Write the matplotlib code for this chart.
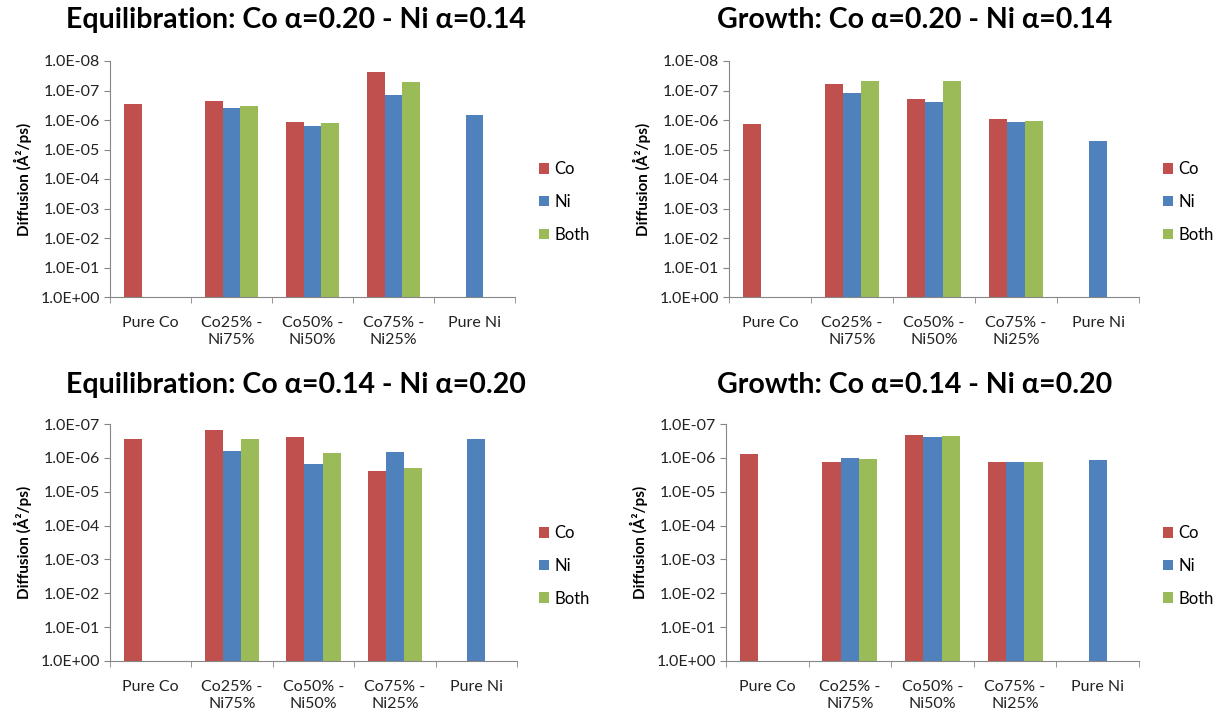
import matplotlib.pyplot as plt
import numpy as np
from matplotlib.ticker import FuncFormatter, FixedLocator

plt.rcParams['font.family'] = ['Lato', 'DejaVu Sans']

categories = ['Pure Co', 'Co25% -\nNi75%', 'Co50% -\nNi50%', 'Co75% -\nNi25%', 'Pure Ni']
series = ['Co', 'Ni', 'Both']
colors = ['#C0504D', '#4F81BD', '#9BBB59']
nan = np.nan

# Equilibration, Co a=0.20 / Ni a=0.14
eq1_co = [2.8e-7, 2.2e-7, 1.2e-6, 2.4e-8, nan]
eq1_ni = [nan, 3.9e-7, 1.6e-6, 1.4e-7, 6.7e-7]
eq1_both = [nan, 3.4e-7, 1.26e-6, 5.2e-8, nan]

# Growth, Co a=0.20 / Ni a=0.14
gr1_co = [1.35e-6, 5.9e-8, 2.0e-7, 9.6e-7, nan]
gr1_ni = [nan, 1.2e-7, 2.5e-7, 1.18e-6, 5.2e-6]
gr1_both = [nan, 4.6e-8, 4.6e-8, 1.05e-6, nan]

# Equilibration, Co a=0.14 / Ni a=0.20
eq2_co = [2.7e-7, 1.5e-7, 2.5e-7, 2.45e-6, nan]
eq2_ni = [nan, 6.3e-7, 1.48e-6, 6.7e-7, 2.8e-7]
eq2_both = [nan, 2.8e-7, 7.0e-7, 2.04e-6, nan]

# Growth, Co a=0.14 / Ni a=0.20
gr2_co = [7.9e-7, 1.32e-6, 2.1e-7, 1.32e-6, nan]
gr2_ni = [nan, 9.8e-7, 2.5e-7, 1.32e-6, 1.17e-6]
gr2_both = [nan, 1.05e-6, 2.3e-7, 1.32e-6, nan]

# title, data, top decade, axes box (px), title centre (px), legend anchor (px)
panels = [
    ('Equilibration: Co α=0.20 - Ni α=0.14', [eq1_co, eq1_ni, eq1_both], 8,
     (110, 61, 515, 297), (296, 20), (539, 202)),
    ('Growth: Co α=0.20 - Ni α=0.14', [gr1_co, gr1_ni, gr1_both], 8,
     (729, 61, 1139, 297), (915, 20), (1163, 202)),
    ('Equilibration: Co α=0.14 - Ni α=0.20', [eq2_co, eq2_ni, eq2_both], 7,
     (110, 424, 517, 661), (296, 385), (539, 566)),
    ('Growth: Co α=0.14 - Ni α=0.20', [gr2_co, gr2_ni, gr2_both], 7,
     (726, 424, 1139, 661), (915, 385), (1163, 566)),
]

W, H = 1224, 715
fig = plt.figure(figsize=(W / 100, H / 100), dpi=100)

bw = 0.222
x = np.arange(len(categories))

for title, data, top, (l, t, r, b), (tx, ty), (lx, ly) in panels:
    ax = fig.add_axes([l / W, 1 - b / H, (r - l) / W, (b - t) / H])
    for i, (vals, c, name) in enumerate(zip(data, colors, series)):
        v = np.array(vals, dtype=float)
        ax.bar(x + (i - 1) * bw, v - 1, bw, bottom=1, color=c, label=name, edgecolor='none')
    ax.set_yscale('log')
    ax.set_ylim(1, 10.0 ** -top)
    ax.set_xlim(-0.5, len(categories) - 0.5)
    ax.yaxis.set_major_locator(FixedLocator([10.0 ** -k for k in range(top + 1)]))
    ax.yaxis.set_minor_locator(FixedLocator([]))
    ax.yaxis.set_major_formatter(FuncFormatter(lambda v, p: f'{v:.1E}'))
    ax.set_xticks(x)
    ax.set_xticklabels(categories, fontsize=11.5, color='#222222')
    ax.set_xticks(np.arange(-0.5, len(categories)), minor=True)
    ax.tick_params(axis='x', which='major', length=0, pad=14)
    ax.tick_params(axis='x', which='minor', length=4, color='#868686', direction='out')
    ax.tick_params(axis='y', which='major', length=4, color='#868686', labelsize=11.5,
                   labelcolor='#222222', pad=3)
    for s in ['top', 'right']:
        ax.spines[s].set_visible(False)
    for s in ['left', 'bottom']:
        ax.spines[s].set_color('#868686')
    ax.set_ylabel('Diffusion (Å²/ps)', fontsize=11, fontweight='bold', labelpad=6)
    fig.text(tx / W, 1 - ty / H, title, fontsize=20.5, fontweight='bold', ha='center', va='center')
    ax.legend(loc='center left', bbox_to_anchor=(lx / W, 1 - ly / H),
              bbox_transform=fig.transFigure, frameon=False, fontsize=12,
              handlelength=0.6, handleheight=0.6, labelspacing=1.0, handletextpad=0.3,
              borderaxespad=0, borderpad=0)

fig.savefig('out.png', dpi=100)
